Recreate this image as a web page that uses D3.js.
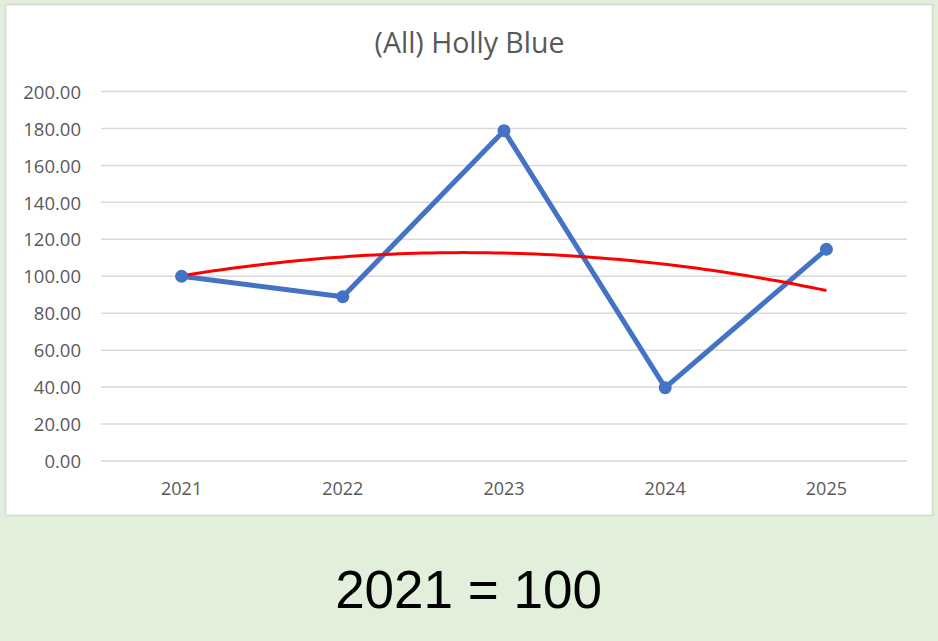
<!DOCTYPE html>
<html>
<head>
<meta charset="utf-8">
<script src="https://cdn.jsdelivr.net/npm/d3@7"></script>
<style>
  html, body { margin: 0; padding: 0; background: #e2efda; }
  svg { display: block; }
</style>
</head>
<body>
<svg id="chart" width="938" height="641"></svg>
<script>
// ---- data ----
const categories = ["2021", "2022", "2023", "2024", "2025"];
const indexValues = [100, 88.9, 178.8, 39.7, 114.6];
const yTicks = [0, 20, 40, 60, 80, 100, 120, 140, 160, 180, 200];
const chartTitle = "(All) Holly Blue";
const footnote = "2021 = 100";

const svg = d3.select("#chart");
const W = 938, H = 641;

svg.append("rect").attr("x", 0).attr("y", 0).attr("width", W).attr("height", H).attr("fill", "#e2efda");

// chart panel
svg.append("rect")
  .attr("x", 5.5).attr("y", 4.5).attr("width", 927).attr("height", 511)
  .attr("fill", "#ffffff").attr("stroke", "#d4d8d0").attr("stroke-width", 1.5);

const plot = { left: 101, right: 907, top: 91.5, bottom: 461 };

const x = d3.scaleBand().domain(categories).range([plot.left, plot.right]);
const y = d3.scaleLinear().domain([0, 200]).range([plot.bottom, plot.top]);
const cx = d => x(d) + x.bandwidth() / 2;

// gridlines
svg.append("g").selectAll("line").data(yTicks).join("line")
  .attr("x1", plot.left).attr("x2", plot.right)
  .attr("y1", d => y(d)).attr("y2", d => y(d))
  .attr("stroke", "#d9d9d9").attr("stroke-width", 1.5);

// y axis labels
const yAxis = d3.axisLeft(y).tickValues(yTicks).tickFormat(d3.format(".2f")).tickSize(0).tickPadding(0);
const gy = svg.append("g").attr("transform", `translate(81,0)`).call(yAxis);
gy.select(".domain").remove();
gy.selectAll("text")
  .attr("fill", "#595959")
  .attr("font-family", "'Open Sans', sans-serif")
  .attr("font-size", 18.5)
  .attr("dy", "0.36em");

// x axis labels
const xAxis = d3.axisBottom(x).tickSize(0).tickPadding(0);
const gx = svg.append("g").attr("transform", `translate(0,${plot.bottom})`).call(xAxis);
gx.select(".domain").remove();
gx.selectAll("text")
  .attr("fill", "#595959")
  .attr("font-family", "'Open Sans', sans-serif")
  .attr("font-size", 18)
  .attr("y", 34).attr("dy", 0);

// title
svg.append("text")
  .attr("x", 469.5).attr("y", 53)
  .attr("text-anchor", "middle")
  .attr("fill", "#595959")
  .attr("font-family", "'Open Sans', sans-serif")
  .attr("font-size", 28.5)
  .text(chartTitle);

// series line
const line = d3.line().x((d, i) => cx(categories[i])).y(d => y(d));
svg.append("path")
  .datum(indexValues)
  .attr("d", line)
  .attr("fill", "none")
  .attr("stroke", "#4472c4")
  .attr("stroke-width", 5)
  .attr("stroke-linejoin", "round");

// polynomial (order 2) trendline, least-squares fit of the series
const xs = indexValues.map((d, i) => i + 1);
function polyFit2(xv, yv) {
  const n = xv.length;
  let s = [0, 0, 0, 0, 0], t = [0, 0, 0];
  for (let i = 0; i < n; i++) {
    let p = 1;
    for (let k = 0; k < 5; k++) { s[k] += p; p *= xv[i]; }
    t[0] += yv[i]; t[1] += yv[i] * xv[i]; t[2] += yv[i] * xv[i] * xv[i];
  }
  const A = [[s[0], s[1], s[2], t[0]], [s[1], s[2], s[3], t[1]], [s[2], s[3], s[4], t[2]]];
  for (let c = 0; c < 3; c++) {
    for (let r = c + 1; r < 3; r++) {
      const f = A[r][c] / A[c][c];
      for (let k = c; k < 4; k++) A[r][k] -= f * A[c][k];
    }
  }
  const coef = [0, 0, 0];
  for (let r = 2; r >= 0; r--) {
    let v = A[r][3];
    for (let k = r + 1; k < 3; k++) v -= A[r][k] * coef[k];
    coef[r] = v / A[r][r];
  }
  return coef;
}
const coef = polyFit2(xs, indexValues);
const xt = d3.scaleLinear().domain([1, categories.length]).range([cx(categories[0]), cx(categories[categories.length - 1])]);
const trendPts = d3.range(1, categories.length + 0.0001, 0.05).map(v => [v, coef[0] + coef[1] * v + coef[2] * v * v]);
svg.append("path")
  .datum(trendPts)
  .attr("d", d3.line().x(d => xt(d[0])).y(d => y(d[1])))
  .attr("fill", "none")
  .attr("stroke", "#ff0000")
  .attr("stroke-width", 3);

// markers
svg.append("g").selectAll("circle").data(indexValues).join("circle")
  .attr("cx", (d, i) => cx(categories[i]))
  .attr("cy", d => y(d))
  .attr("r", 6.5)
  .attr("fill", "#4472c4");

// footnote
svg.append("text")
  .attr("x", 468.5).attr("y", 608)
  .attr("text-anchor", "middle")
  .attr("fill", "#000000")
  .attr("font-family", "'Liberation Sans', Arial, sans-serif")
  .attr("font-size", 53)
  .text(footnote);
</script>
</body>
</html>
